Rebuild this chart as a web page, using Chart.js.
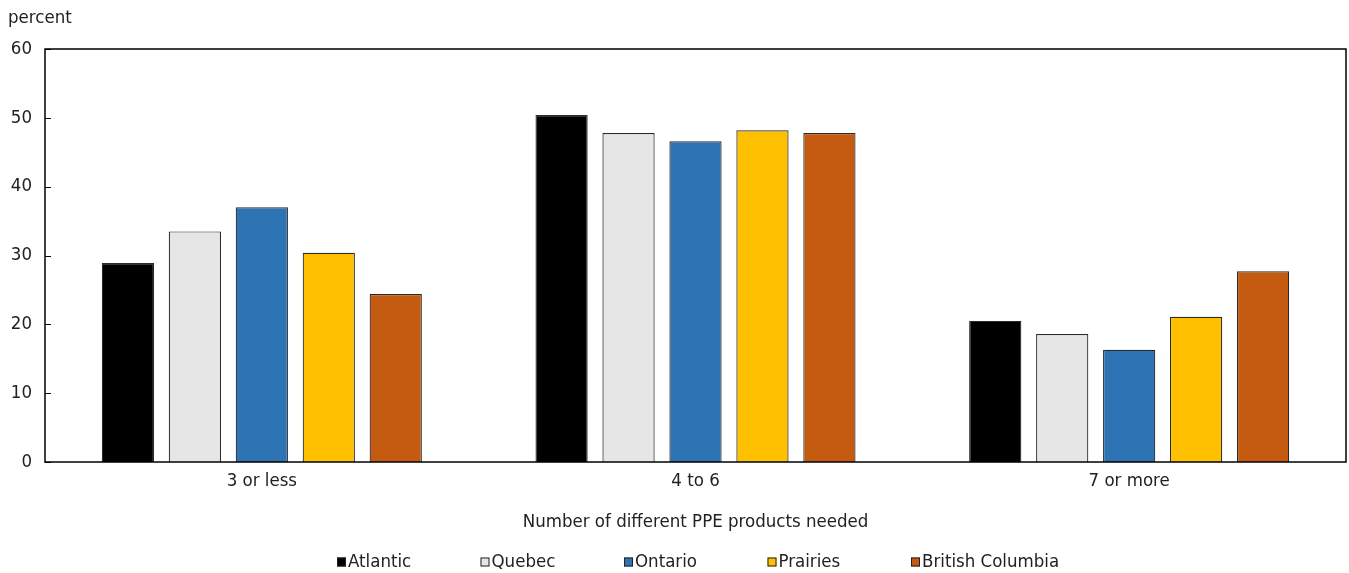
<!DOCTYPE html>
<html><head><meta charset="utf-8">
<script src="https://cdn.jsdelivr.net/npm/chart.js@4/dist/chart.umd.min.js"></script>
<style>html,body{margin:0;padding:0;background:#fff;}#wrap{width:1349px;height:573px;position:relative;}</style>
</head><body><div id="wrap"><canvas id="c"></canvas></div>
<script>
const categories = ["3 or less", "4 to 6", "7 or more"];
const seriesNames = ["Atlantic", "Quebec", "Ontario", "Prairies", "British Columbia"];
const atlantic = [28.9, 50.4, 20.5];
const quebec = [33.5, 47.8, 18.6];
const ontario = [37.0, 46.6, 16.3];
const prairies = [30.4, 48.2, 21.1];
const britishColumbia = [24.4, 47.8, 27.7];
const yTicks = [0, 10, 20, 30, 40, 50, 60];
const yTitle = "percent";
const xTitle = "Number of different PPE products needed";

const colors = ["#000000", "#E6E6E6", "#2E74B5", "#FFC000", "#C55A11"];
const FONT = '"DejaVu Sans Condensed", "Liberation Sans Narrow", "Roboto", sans-serif';
const FS = 18.5;
const TXT = "#222222";
const allSeries = [atlantic, quebec, ontario, prairies, britishColumbia];

const boxPlugin = {
  id: 'boxPlugin',
  afterDatasetsDraw(chart) {
    const {ctx, chartArea: a} = chart;
    const ys = chart.scales.y;
    ctx.save();
    ctx.strokeStyle = "#000";
    ctx.lineWidth = 1.5;
    ctx.strokeRect(a.left, a.top, a.right - a.left, a.bottom - a.top);
    ctx.lineWidth = 1;
    ctx.beginPath();
    yTicks.forEach(v => {
      const y = Math.round(ys.getPixelForValue(v)) + 0.5;
      ctx.moveTo(a.left, y);
      ctx.lineTo(a.left + 6, y);
    });
    ctx.stroke();
    ctx.restore();
  },
  afterDraw(chart) {
    const ctx = chart.ctx;
    ctx.save();
    ctx.font = FS + "px " + FONT;
    ctx.fillStyle = TXT;
    ctx.textBaseline = "middle";
    ctx.textAlign = "left";
    ctx.fillText(yTitle, 8, 18);
    // legend: fixed-width columns
    const y = 562;
    chart.data.datasets.forEach((ds, i) => {
      const x = 337 + i * 143.5;
      ctx.fillStyle = ds.backgroundColor;
      ctx.fillRect(x, y - 4.5, 9, 9);
      ctx.strokeStyle = "#222";
      ctx.lineWidth = 1;
      ctx.strokeRect(x + 0.5, y - 4, 8, 8);
      ctx.fillStyle = TXT;
      ctx.fillText(ds.label, x + 11, y);
    });
    ctx.restore();
  }
};

new Chart(document.getElementById('c'), {
  type: 'bar',
  data: {
    labels: categories,
    datasets: seriesNames.map((n, i) => ({
      label: n,
      data: allSeries[i],
      backgroundColor: colors[i],
      borderColor: "#2a2a2a",
      borderWidth: 1.2,
      categoryPercentage: 0.772,
      barPercentage: 0.78
    }))
  },
  options: {
    responsive: true,
    maintainAspectRatio: false,
    animation: false,
    layout: {padding: {top: 49, right: 3, left: 0, bottom: 0}},
    plugins: {legend: {display: false}, tooltip: {enabled: false}},
    scales: {
      x: {
        grid: {display: false, drawTicks: false},
        border: {display: false},
        ticks: {color: TXT, font: {family: FONT, size: FS}, padding: 8},
        title: {display: true, text: xTitle, color: TXT, font: {family: FONT, size: FS}, padding: {top: 0, bottom: 40}},
        afterFit(s) { s.height = 111; }
      },
      y: {
        min: 0, max: 60,
        afterBuildTicks(s) { s.ticks = yTicks.map(v => ({value: v})); },
        grid: {display: false, drawTicks: false},
        border: {display: false},
        ticks: {color: TXT, font: {family: FONT, size: FS}, padding: 13},
        afterFit(s) { s.width = 45; }
      }
    }
  },
  plugins: [boxPlugin]
});
</script></body></html>
